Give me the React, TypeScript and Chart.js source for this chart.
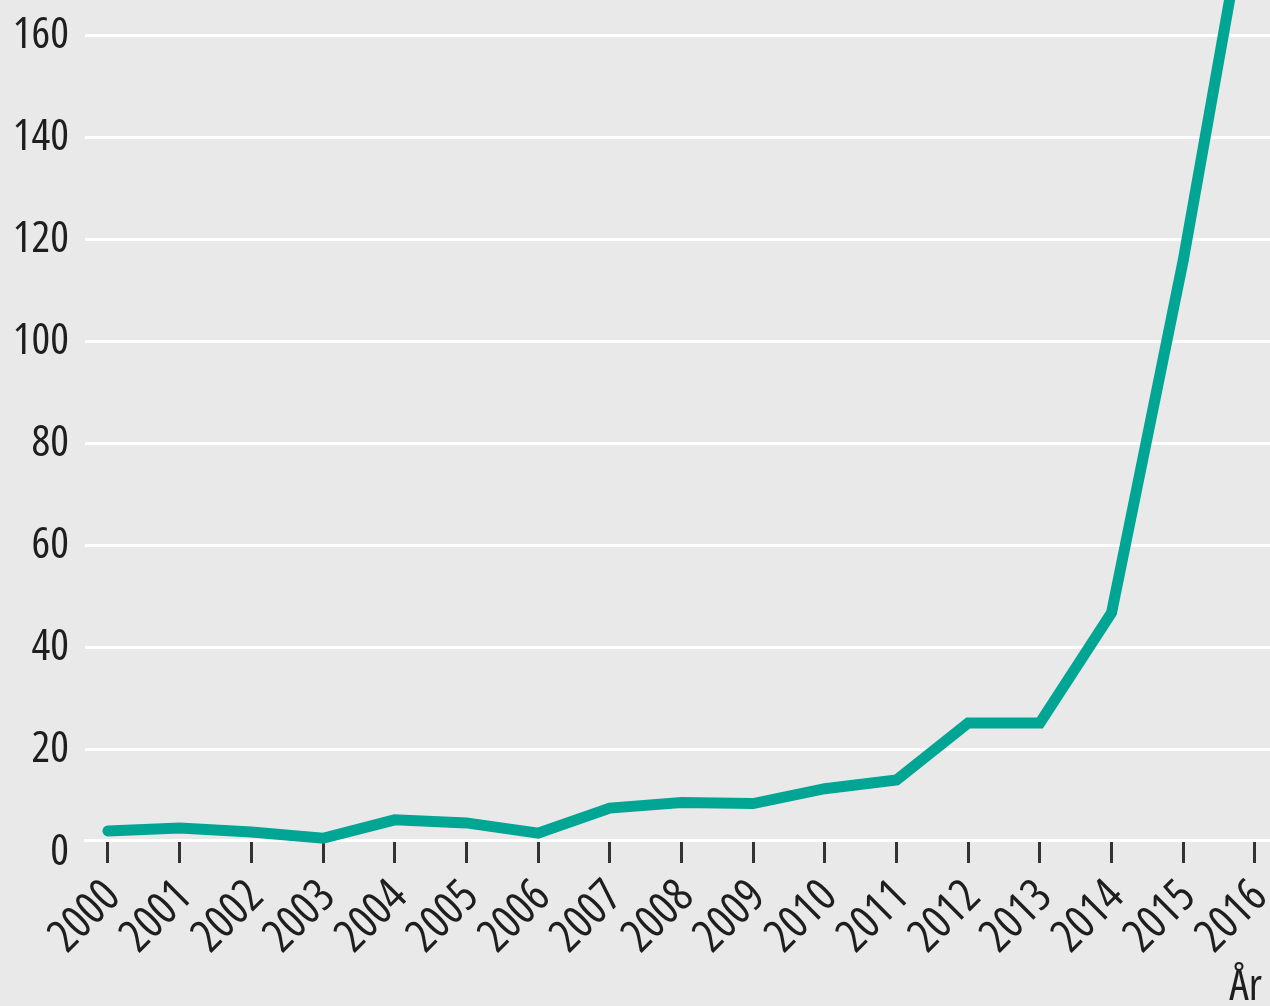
import React, { useEffect, useRef } from 'react';
import { Chart, registerables } from 'chart.js';

Chart.register(...registerables);

const YEARS = [2000, 2001, 2002, 2003, 2004, 2005, 2006, 2007, 2008, 2009, 2010, 2011, 2012, 2013, 2014, 2015, 2016];
const VALUES = [4.1, 4.7, 3.9, 2.7, 6.3, 5.7, 3.7, 8.6, 9.7, 9.5, 12.4, 14.1, 25.3, 25.3, 46.9, 116, 195];
const Y_TICKS = [0, 20, 40, 60, 80, 100, 120, 140, 160];
const X_TITLE = 'År ';

const Y_MIN = 2.35;
const Y_MAX = 167;
const X_MIN = 1999.68;
const X_MAX = 2016.21;

const FONT_FAMILY = "'Open Sans', 'DejaVu Sans Condensed', sans-serif";
const FONT_WEIGHT = '500 condensed';
const TEXT = '#1e1e1e';
const LINE = '#00a693';
const BG = '#e9e9e9';

export default function App() {
  const ref = useRef<HTMLCanvasElement | null>(null);

  useEffect(() => {
    if (!ref.current) return;
    const chart = new Chart(ref.current, {
      type: 'line',
      data: {
        datasets: [
          {
            data: YEARS.map((x, i) => ({ x, y: VALUES[i] })),
            borderColor: LINE,
            borderWidth: 11,
            borderCapStyle: 'round',
            borderJoinStyle: 'miter',
            pointRadius: 0,
            tension: 0,
            fill: false,
            clip: false as any,
          },
        ],
      },
      options: {
        responsive: false,
        animation: false,
        devicePixelRatio: 1,
        layout: { padding: 0 },
        plugins: { legend: { display: false }, tooltip: { enabled: false } },
        scales: {
          x: {
            type: 'linear',
            min: X_MIN,
            max: X_MAX,
            afterBuildTicks: (scale: any) => {
              scale.ticks = YEARS.map((v) => ({ value: v }));
            },
            afterFit: (scale: any) => {
              scale.height = 166;
              scale.paddingLeft = 0;
              scale.paddingRight = 0;
            },
            grid: {
              drawOnChartArea: false,
              drawTicks: true,
              tickLength: 23,
              color: '#333333',
              lineWidth: 3,
            },
            border: { display: true, color: '#ffffff', width: 3 },
            ticks: {
              autoSkip: false,
              maxRotation: 45,
              minRotation: 45,
              padding: 7,
              labelOffset: 5,
              color: TEXT,
              font: { family: FONT_FAMILY, size: 46, weight: FONT_WEIGHT as any },
              callback: (v: any) => String(v),
            },
            title: {
              display: true,
              text: X_TITLE,
              align: 'end',
              color: TEXT,
              font: { family: FONT_FAMILY, size: 44, weight: FONT_WEIGHT as any, lineHeight: 0.86 },
              padding: { top: 0, bottom: 0 },
            },
          },
          y: {
            type: 'linear',
            min: Y_MIN,
            max: Y_MAX,
            afterBuildTicks: (scale: any) => {
              scale.ticks = Y_TICKS.map((v) => ({ value: v }));
            },
            afterFit: (scale: any) => {
              scale.width = 85;
              scale.paddingTop = 0;
              scale.paddingBottom = 0;
            },
            grid: {
              drawTicks: false,
              lineWidth: 3,
              color: (ctx: any) => (ctx.tick && ctx.tick.value === 0 ? 'rgba(0,0,0,0)' : '#ffffff'),
            },
            border: { display: false },
            ticks: {
              padding: 16,
              color: TEXT,
              font: { family: FONT_FAMILY, size: 44, weight: FONT_WEIGHT as any },
              callback: (v: any) => String(v),
            },
          },
        },
      },
    });
    return () => chart.destroy();
  }, []);

  return (
    <div style={{ position: 'fixed', left: 0, top: 0, width: 1270, height: 1006, background: BG, overflow: 'hidden' }}>
      <canvas ref={ref} width={1270} height={1006} style={{ display: 'block', width: 1270, height: 1006 }} />
    </div>
  );
}
